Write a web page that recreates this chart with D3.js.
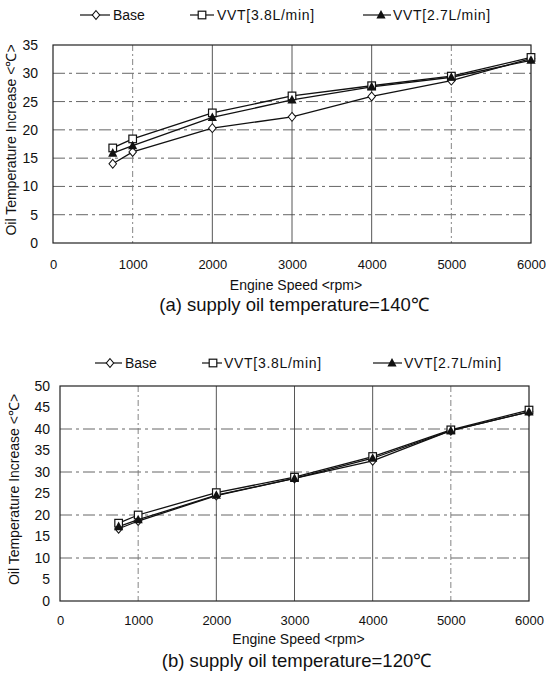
<!DOCTYPE html>
<html><head><meta charset="utf-8">
<script src="https://cdn.jsdelivr.net/npm/d3@7"></script>
<style>body{margin:0;background:#fff}svg{display:block}text{font-family:"Liberation Sans",Arial,sans-serif;fill:#111}</style>
</head><body>
<svg id="c" width="546" height="681"></svg>
<script>
const rpm = [750, 1000, 2000, 3000, 4000, 5000, 6000];
const seriesNames = ["Base", "VVT[3.8L/min]", "VVT[2.7L/min]"];
// (a) supply oil temperature = 140 C
const baseA = [14.0, 16.1, 20.3, 22.3, 25.9, 28.7, 32.6];
const vvt38A = [16.8, 18.4, 23.0, 26.0, 27.8, 29.5, 32.8];
const vvt27A = [15.9, 17.2, 22.2, 25.3, 27.6, 29.3, 32.3];
// (b) supply oil temperature = 120 C
const baseB = [16.8, 18.6, 24.5, 28.5, 32.6, 39.6, 44.0];
const vvt38B = [18.1, 20.0, 25.2, 28.8, 33.6, 39.8, 44.4];
const vvt27B = [17.3, 18.9, 24.6, 28.5, 33.2, 39.6, 44.0];
const xTicks = [0, 1000, 2000, 3000, 4000, 5000, 6000];
const yTicksA = [0, 5, 10, 15, 20, 25, 30, 35];
const yTicksB = [0, 5, 10, 15, 20, 25, 30, 35, 40, 45, 50];
const gridYA = [5, 10, 15, 20, 25, 30];
const gridYB = [10, 20, 30, 40];
const xLabel = "Engine Speed <rpm>";
const yLabel = "Oil Temperature Increase <\u2103>";
const titleA = "(a) supply oil temperature=140\u2103";
const titleB = "(b) supply oil temperature=120\u2103";

const svg = d3.select("#c");
const markers = ["diamond", "square", "triangle"];

function marker(g, type, x, y) {
  if (type === "diamond") {
    g.append("path").attr("d", d3.symbol(d3.symbolDiamond2, 50)())
      .attr("transform", `translate(${x},${y}) scale(0.85,1)`)
      .attr("fill", "#fff").attr("stroke", "#111").attr("stroke-width", 1.1);
  } else if (type === "square") {
    g.append("rect").attr("x", x - 3.8).attr("y", y - 3.8).attr("width", 7.6).attr("height", 7.6)
      .attr("fill", "#fff").attr("stroke", "#111").attr("stroke-width", 1.2);
  } else {
    g.append("path").attr("d", "M0,-5L4.6,3.6L-4.6,3.6Z")
      .attr("transform", `translate(${x},${y})`).attr("fill", "#111");
  }
}

function chart(o) {
  const x = d3.scaleLinear().domain([0, 6000]).range([o.left, o.right]);
  const y = d3.scaleLinear().domain([0, o.ymax]).range([o.bottom, o.top]);
  const g = svg.append("g");
  // legend
  o.legend.forEach((L, i) => {
    g.append("line").attr("x1", L.x1).attr("x2", L.x2).attr("y1", o.legY).attr("y2", o.legY)
      .attr("stroke", "#111").attr("stroke-width", 1.2);
    marker(g, markers[i], L.m, o.legY);
    g.append("text").attr("x", L.t).attr("y", o.legY + 5).attr("font-size", 14)
      .attr("letter-spacing", i ? 0.7 : 0).text(seriesNames[i]);
  });
  // grid
  g.selectAll(".gy").data(o.gridY).enter().append("line")
    .attr("x1", o.left).attr("x2", o.right).attr("y1", d => y(d)).attr("y2", d => y(d))
    .attr("stroke", "#555").attr("stroke-width", 0.9).attr("stroke-dasharray", "12,4,3,4");
  g.selectAll(".gx").data(xTicks.slice(1, 6)).enter().append("line")
    .attr("x1", d => x(d)).attr("x2", d => x(d)).attr("y1", o.top).attr("y2", o.bottom)
    .attr("stroke", (d, i) => (i >= 1 && i <= 3) ? "#444" : "#777").attr("stroke-width", 0.9)
    .attr("stroke-dasharray", (d, i) => (i >= 1 && i <= 3) ? null : "6,3,2,3");
  // frame
  g.append("rect").attr("x", o.left).attr("y", o.top).attr("width", o.right - o.left).attr("height", o.bottom - o.top)
    .attr("fill", "none").attr("stroke", "#222").attr("stroke-width", 1.2);
  // axes
  const ax = g.append("g").attr("transform", `translate(0,${o.bottom})`)
    .call(d3.axisBottom(x).tickValues(xTicks).tickSize(0).tickPadding(o.xPad).tickFormat(d3.format("d")));
  ax.select(".domain").remove();
  ax.selectAll("text").attr("font-size", 13).attr("font-family", "Liberation Sans, Arial").attr("fill", "#111");
  const ay = g.append("g").attr("transform", `translate(${o.left},0)`)
    .call(d3.axisLeft(y).tickValues(o.yTicks).tickSize(0).tickPadding(o.yPad));
  ay.select(".domain").remove();
  ay.selectAll("text").attr("font-size", 14).attr("font-family", "Liberation Sans, Arial").attr("fill", "#111");
  // labels
  g.append("text").attr("x", (o.left + o.right) / 2 + 4).attr("y", o.xLabY).attr("text-anchor", "middle")
    .attr("font-size", 14).text(xLabel);
  g.append("text").attr("transform", `translate(${o.yLabX},${(o.top + o.bottom) / 2 - 4}) rotate(-90)`)
    .attr("text-anchor", "middle").attr("font-size", 14).text(yLabel);
  g.append("text").attr("x", (o.left + o.right) / 2 + 2).attr("y", o.titleY).attr("text-anchor", "middle")
    .attr("font-size", 18.5).text(o.title);
  // series
  const line = d3.line().x((d, i) => x(rpm[i])).y(d => y(d));
  o.data.forEach((s, k) => {
    g.append("path").datum(s).attr("d", line).attr("fill", "none").attr("stroke", "#111").attr("stroke-width", 1.3);
  });
  o.data.forEach((s, k) => {
    s.forEach((v, i) => marker(g, markers[k], x(rpm[i]), y(v)));
  });
}

chart({left: 53, right: 531, top: 45, bottom: 243, ymax: 35, yTicks: yTicksA, gridY: gridYA,
  xPad: 17, yPad: 15, xLabY: 290, yLabX: 16, titleY: 311, title: titleA, legY: 15,
  legend: [{x1: 80, x2: 110, m: 96, t: 113}, {x1: 190, x2: 214, m: 202, t: 217}, {x1: 363, x2: 391, m: 381, t: 393}],
  data: [baseA, vvt38A, vvt27A]});
chart({left: 60, right: 529, top: 386, bottom: 601, ymax: 50, yTicks: yTicksB, gridY: gridYB,
  xPad: 15, yPad: 10, xLabY: 644, yLabX: 19, titleY: 667, title: titleB, legY: 363,
  legend: [{x1: 95, x2: 122, m: 110, t: 125}, {x1: 202, x2: 222, m: 213, t: 224}, {x1: 373, x2: 402, m: 392, t: 404}],
  data: [baseB, vvt38B, vvt27B]});
</script>
</body></html>
